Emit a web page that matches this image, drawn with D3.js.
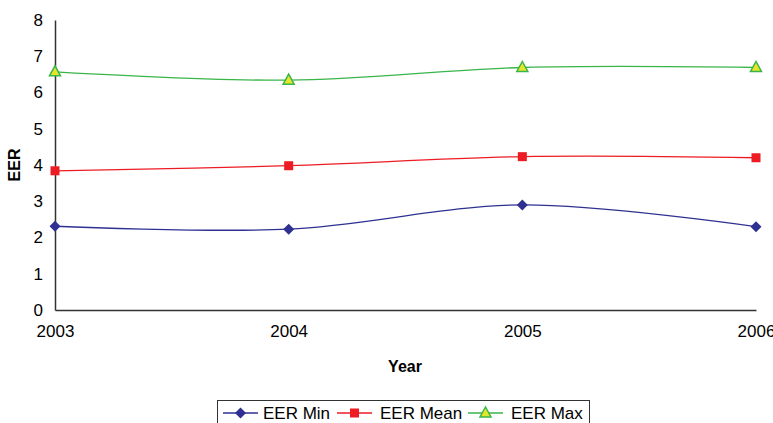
<!DOCTYPE html>
<html><head><meta charset="utf-8">
<script src="https://cdn.jsdelivr.net/npm/d3@7"></script>
<style>body{margin:0;background:#fff}svg{display:block;font-family:Arial,"Liberation Sans",sans-serif}</style>
</head><body><svg id="c" width="773" height="423"></svg>
<script>
const years = [2003, 2004, 2005, 2006];
const eerMin = [2.31, 2.23, 2.90, 2.30];
const eerMean = [3.84, 3.98, 4.23, 4.20];
const eerMax = [6.57, 6.34, 6.69, 6.69];
const yTicks = [0,1,2,3,4,5,6,7,8];
const seriesNames = ["EER Min", "EER Mean", "EER Max"];

const svg = d3.select("#c");
const x = d3.scaleLinear().domain([2003, 2006]).range([55, 756]);
const y = d3.scaleLinear().domain([0, 8]).range([310, 20]);

const axisColor = "#333";
const ff = "Arial,'Liberation Sans',sans-serif";
// y axis
const ya = svg.append("g").attr("transform","translate(55,0)")
  .call(d3.axisLeft(y).tickValues(yTicks).tickSize(0).tickPadding(12).tickFormat(d3.format("d")));
ya.select(".domain").attr("stroke", axisColor).attr("stroke-width",1.5);
ya.selectAll("text").attr("font-size",17).attr("fill","#000").attr("font-family",ff);
// x axis
const xa = svg.append("g").attr("transform","translate(0,310)")
  .call(d3.axisBottom(x).tickValues(years).tickSize(0).tickPadding(15).tickFormat(d3.format("d")));
xa.select(".domain").attr("stroke", axisColor).attr("stroke-width",1.5);
xa.selectAll("text").attr("font-size",17).attr("fill","#000").attr("font-family",ff);

svg.append("text").attr("x",405).attr("y",372).attr("text-anchor","middle")
  .attr("font-weight","bold").attr("font-size",16).attr("fill","#000").text("Year");
svg.append("text").attr("transform","translate(20,165) rotate(-90)").attr("text-anchor","middle")
  .attr("font-weight","bold").attr("font-size",16).attr("fill","#000").text("EER");

const series = [
  {name: seriesNames[0], vals: eerMin, color:"#2e3192", marker:"diamond"},
  {name: seriesNames[1], vals: eerMean, color:"#ed1c24", marker:"square"},
  {name: seriesNames[2], vals: eerMax, color:"#39b54a", marker:"triangle"}
];
const line = d3.line().x(d=>x(d[0])).y(d=>y(d[1])).curve(d3.curveCardinal.tension(0));

function marker(g, type, cx, cy, color){
  if(type==="diamond"){
    g.append("path").attr("d",`M${cx},${cy-5.5}L${cx+5.5},${cy}L${cx},${cy+5.5}L${cx-5.5},${cy}Z`).attr("fill",color);
  } else if(type==="square"){
    g.append("rect").attr("x",cx-4.5).attr("y",cy-4.5).attr("width",9).attr("height",9).attr("fill",color);
  } else {
    g.append("path").attr("d",`M${cx},${cy-6}L${cx+5.5},${cy+4}L${cx-5.5},${cy+4}Z`).attr("fill","#e5e52a").attr("stroke",color).attr("stroke-width",1.5);
  }
}

series.forEach(s=>{
  const pts = years.map((yr,i)=>[yr, s.vals[i]]);
  svg.append("path").attr("d", line(pts)).attr("fill","none").attr("stroke", s.color).attr("stroke-width",1.3);
  const g = svg.append("g");
  pts.forEach(p=>marker(g, s.marker, x(p[0]), y(p[1]), s.color));
});

// legend
const lg = svg.append("g");
lg.append("rect").attr("x",217.5).attr("y",400.5).attr("width",372).attr("height",30)
  .attr("fill","#fff").attr("stroke","#333").attr("stroke-width",1);
const legendPos = [{lx:223, tx:263},{lx:337, tx:380},{lx:468, tx:511}];
series.forEach((s,i)=>{
  const p = legendPos[i];
  lg.append("line").attr("x1",p.lx).attr("x2",p.lx+35).attr("y1",413).attr("y2",413).attr("stroke",s.color).attr("stroke-width",1.3);
  marker(lg, s.marker, p.lx+17.5, 413, s.color);
  lg.append("text").attr("x",p.tx).attr("y",419).attr("font-size",17).attr("fill","#000").text(s.name);
});
</script></body></html>
